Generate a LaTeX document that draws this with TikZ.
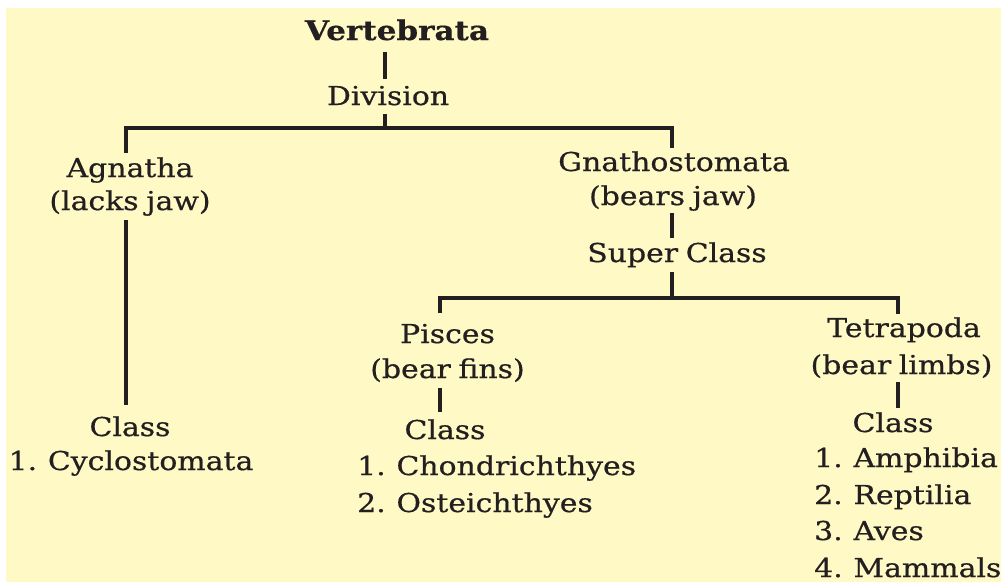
\documentclass[tikz,border=0pt]{standalone}
\usepackage{fontspec}
\setmainfont{DejaVu Serif}[FakeStretch=1.15,FakeBold=0.6,WordSpace=0.8]
\definecolor{bgyellow}{RGB}{255,249,197}
\definecolor{ink}{RGB}{35,31,32}
\begin{document}
\begin{tikzpicture}[x=1pt,y=-1pt,
  lbl/.style={anchor=base,inner sep=0pt,text=ink,font=\fontsize{26}{30}\selectfont},
  lbll/.style={lbl,anchor=base west},
  conn/.style={draw=ink,line width=3.2pt,line cap=butt,line join=miter}]
\useasboundingbox (0,0) rectangle (1003,582);
\fill[white] (0,0) rectangle (1003,582);
\fill[bgyellow] (6,8) rectangle (1001,582);
% nodes
\node[lbl,font=\bfseries\fontsize{27}{30}\selectfont] (vert) at (397,40) {Vertebrata};
\node[lbl] (div) at (388,105) {Division};
\node[lbl] (agn) at (130,177) {Agnatha};
\node[lbl] (agnj) at (130,210) {(lacks jaw)};
\node[lbl] (cl1) at (130,436) {Class};
\node[lbl] (cyc) at (131,470) {1. Cyclostomata};
\node[lbl] (gna) at (674,171) {Gnathostomata};
\node[lbl] (gnaj) at (673,205) {(bears jaw)};
\node[lbl] (sup) at (677,262) {Super Class};
\node[lbl] (pis) at (447.5,343) {Pisces};
\node[lbl] (pisf) at (447.5,378) {(bear fins)};
\node[lbl] (cl2) at (445,439) {Class};
\node[lbll] (chon) at (357,475) {1. Chondrichthyes};
\node[lbll] (oste) at (357,512) {2. Osteichthyes};
\node[lbl] (tet) at (904,337) {Tetrapoda};
\node[lbl] (tetl) at (901.5,374) {(bear limbs)};
\node[lbl] (cl3) at (893,432) {Class};
\node[lbll] (amph) at (814,467) {1. Amphibia};
\node[lbll] (rept) at (814,504) {2. Reptilia};
\node[lbll] (aves) at (814,540) {3. Aves};
\node[lbll] (mamm) at (814,577) {4. Mammals};
% connector end points
\coordinate (vertB) at (385,52);
\coordinate (divT) at (385,79);
\coordinate (divB) at (385,114);
\coordinate (j1) at (385,128);
\coordinate (j1L) at (126,128);
\coordinate (j1R) at (672,128);
\coordinate (agnT) at (126,153);
\coordinate (gnaT) at (672,148);
\coordinate (agnB) at (126,220);
\coordinate (cl1T) at (126,405);
\coordinate (gnaB) at (672,213);
\coordinate (supT) at (672,238);
\coordinate (supB) at (672,272);
\coordinate (j2) at (672,298);
\coordinate (j2L) at (440,298);
\coordinate (j2R) at (898,298);
\coordinate (pisT) at (440,313);
\coordinate (tetT) at (898,314);
\coordinate (pisB) at (440,388);
\coordinate (cl2T) at (440,412);
\coordinate (tetB) at (898,382);
\coordinate (cl3T) at (898,408);
% connectors
\draw[conn] (vertB) -- (divT);
\draw[conn] (divB) -- (j1);
\draw[conn] (agnT) -- (j1L) -- (j1R) -- (gnaT);
\draw[conn] (agnB) -- (cl1T);
\draw[conn] (gnaB) -- (supT);
\draw[conn] (supB) -- (j2);
\draw[conn] (pisT) -- (j2L) -- (j2R) -- (tetT);
\draw[conn] (pisB) -- (cl2T);
\draw[conn] (tetB) -- (cl3T);
\end{tikzpicture}
\end{document}
